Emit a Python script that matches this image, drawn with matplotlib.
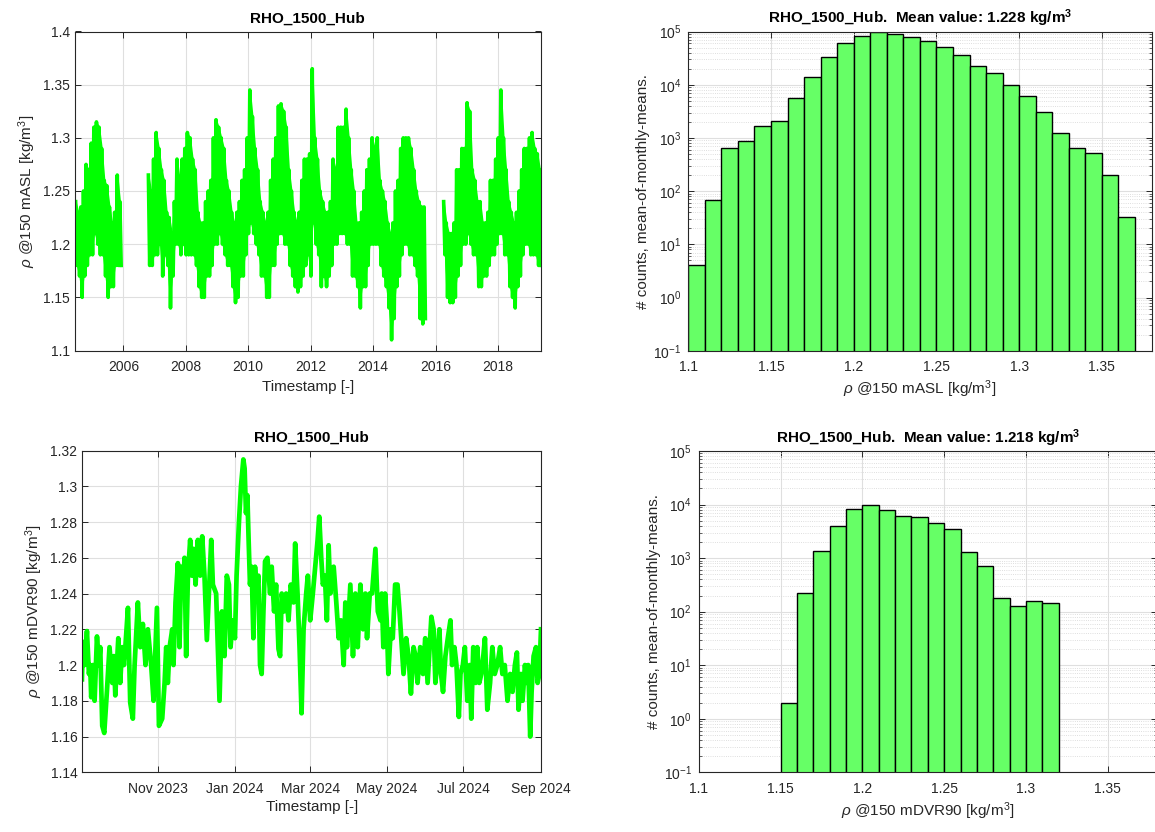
import numpy as np
import matplotlib
matplotlib.use('Agg')
import matplotlib.pyplot as plt
import matplotlib.dates as mdates
from matplotlib.ticker import FixedLocator, FuncFormatter, LogLocator, NullFormatter

plt.rcParams['font.family'] = ['Liberation Sans', 'DejaVu Sans']
plt.rcParams['mathtext.fontset'] = 'custom'
plt.rcParams['mathtext.rm'] = 'Liberation Sans'
plt.rcParams['mathtext.it'] = 'Liberation Sans:italic'
plt.rcParams['mathtext.bf'] = 'Liberation Sans:bold'

# ---------------- data: long-term series (monthly envelope, three data segments) ----------------
seg_starts = [2004.45, 2006.78, 2016.24]   # decimal year of first month in each segment
segA_hi = [1.24, 1.23, 1.235, 1.25, 1.275, 1.27, 1.295, 1.31, 1.315, 1.31, 1.29, 1.26,
           1.255, 1.235, 1.22, 1.23, 1.265, 1.24]
segA_lo = [1.18, 1.17, 1.15, 1.17, 1.18, 1.19, 1.19, 1.21, 1.20, 1.19, 1.19, 1.17,
           1.15, 1.16, 1.16, 1.18, 1.18, 1.18]
segB_hi = [1.265, 1.25, 1.28,
           1.305, 1.29, 1.27, 1.26, 1.23, 1.225, 1.21, 1.24, 1.28, 1.26, 1.28, 1.29,
           1.305, 1.30, 1.28, 1.27, 1.23, 1.22, 1.22, 1.24, 1.25, 1.26, 1.30, 1.317,
           1.31, 1.30, 1.29, 1.26, 1.25, 1.23, 1.22, 1.23, 1.24, 1.26, 1.27, 1.30,
           1.345, 1.32, 1.29, 1.27, 1.24, 1.23, 1.22, 1.23, 1.26, 1.28, 1.30, 1.33,
           1.332, 1.325, 1.31, 1.27, 1.25, 1.23, 1.22, 1.23, 1.26, 1.28, 1.28, 1.285,
           1.365, 1.30, 1.28, 1.25, 1.24, 1.23, 1.23, 1.24, 1.28, 1.27, 1.31, 1.31,
           1.31, 1.327, 1.30, 1.27, 1.25, 1.22, 1.22, 1.23, 1.25, 1.27, 1.28, 1.30,
           1.29, 1.30, 1.26, 1.25, 1.24, 1.22, 1.21, 1.22, 1.25, 1.26, 1.29, 1.30,
           1.30, 1.30, 1.29, 1.27, 1.25, 1.24, 1.235, 1.235]
segB_lo = [1.18, 1.18, 1.19,
           1.19, 1.20, 1.17, 1.19, 1.18, 1.14, 1.17, 1.20, 1.20, 1.19, 1.20, 1.19,
           1.19, 1.19, 1.19, 1.18, 1.16, 1.15, 1.15, 1.17, 1.17, 1.18, 1.20, 1.20,
           1.21, 1.20, 1.19, 1.18, 1.18, 1.16, 1.145, 1.15, 1.17, 1.17, 1.19, 1.21,
           1.22, 1.21, 1.20, 1.19, 1.17, 1.17, 1.15, 1.15, 1.18, 1.18, 1.20, 1.21,
           1.21, 1.20, 1.20, 1.18, 1.17, 1.16, 1.155, 1.16, 1.17, 1.18, 1.19, 1.17,
           1.22, 1.20, 1.19, 1.16, 1.17, 1.16, 1.17, 1.18, 1.20, 1.20, 1.21, 1.21,
           1.21, 1.20, 1.20, 1.17, 1.17, 1.16, 1.14, 1.16, 1.16, 1.18, 1.20, 1.20,
           1.20, 1.20, 1.18, 1.17, 1.16, 1.14, 1.11, 1.13, 1.16, 1.17, 1.19, 1.20,
           1.20, 1.19, 1.19, 1.18, 1.17, 1.13, 1.125, 1.13]
segC_hi = [1.24, 1.22, 1.21, 1.21, 1.22, 1.27, 1.27, 1.29, 1.29,
           1.333, 1.325, 1.27, 1.26, 1.24, 1.24, 1.22, 1.22, 1.23, 1.26, 1.26, 1.28,
           1.30, 1.345, 1.30, 1.27, 1.24, 1.23, 1.22, 1.23, 1.25, 1.27, 1.29, 1.29,
           1.30, 1.305, 1.29, 1.285, 1.27]
segC_lo = [1.19, 1.15, 1.145, 1.145, 1.15, 1.17, 1.18, 1.20, 1.20,
           1.21, 1.20, 1.19, 1.19, 1.16, 1.16, 1.17, 1.17, 1.18, 1.19, 1.19, 1.20,
           1.21, 1.21, 1.19, 1.19, 1.16, 1.15, 1.14, 1.16, 1.17, 1.19, 1.20, 1.20,
           1.19, 1.19, 1.19, 1.18, 1.18]
year_ticks = [2006, 2008, 2010, 2012, 2014, 2016, 2018]

# ---------------- data: 2023/24 series (days since 2023-09-01) ----------------
days2 = [0, 0.8, 2.1, 4.0, 5.6, 6.6, 7.4, 8.8, 10.1, 12.0, 13.5, 14.6, 16.2, 17.8, 19.9, 22.0,
         24.2, 25.5, 26.6, 29.0, 30.5, 32.1, 33.5, 34.8, 36.7, 38.5, 40.6, 42.0, 44.6, 46.5,
         48.6, 50.7, 52.6, 55.2, 57.1, 59.8, 61.4, 64.0, 65.9, 67.2, 68.5, 69.9, 72.0, 73.0,
         74.6, 76.5, 77.8, 79.1, 80.5, 81.8, 83.1, 84.5, 86.3, 87.6, 89.0, 90.6, 92.4, 94.3,
         95.9, 97.7, 99.6, 101.2, 103.1, 104.4, 107.0, 109.7, 111.6, 113.7, 115.5,
         117.2, 118.5, 120.1, 122.0, 123.3, 125.2, 126.8, 128.7, 129.7, 130.8, 131.9, 132.9,
         134.0, 135.3, 136.7, 138.0, 139.3, 140.7, 142.0, 143.3, 144.7, 146.0, 147.9, 150.0,
         151.3, 153.2, 154.8, 156.7, 158.0, 159.3, 161.2, 162.8, 164.7, 166.5, 168.7, 170.0,
         171.9, 173.5, 175.1, 176.7, 178.8, 180.1, 182.0, 184.1, 186.0, 187.9, 189.2, 190.8,
         192.1, 193.7, 195.3, 196.7, 198.0, 200.7, 202.8, 204.7, 206.5, 208.7, 210.0, 211.3,
         214.0, 216.1, 218.0, 219.9, 222.0, 224.1, 226.0, 227.3, 229.5, 231.3, 234.0, 235.9,
         238.0, 239.0, 240.3, 241.7, 243.0, 244.3, 246.2, 247.8, 249.7, 251.6, 253.2, 255.0,
         256.4, 258.5, 260.4, 262.3, 264.4, 266.0, 267.6, 269.7, 271.9, 273.7, 275.6, 277.2,
         278.6, 280.4, 281.8, 283.1, 285.0, 286.3, 287.9, 289.8, 291.7, 293.8, 295.1, 297.0,
         298.6, 300.5, 301.8, 303.7, 305.3, 307.2, 309.1, 310.4, 312.0, 313.9, 315.2, 316.8,
         318.4, 320.0, 321.3, 323.2, 325.4, 327.2, 329.1, 331.2, 333.4, 335.2, 337.1, 339.3,
         341.4, 343.3, 345.2, 346.8, 348.1, 350.0, 351.3, 353.2, 354.8, 355.8, 357.4, 358.5,
         360.1, 362.0, 363.3, 364.7, 366.0]
rho2 = [1.192, 1.213, 1.20, 1.219, 1.195, 1.20, 1.182, 1.20, 1.18, 1.216, 1.20, 1.21, 1.166, 1.162,
        1.185, 1.21, 1.19, 1.205, 1.183, 1.215, 1.19, 1.21, 1.20, 1.212, 1.232, 1.179, 1.170,
        1.20, 1.235, 1.21, 1.223, 1.20, 1.22, 1.20, 1.18, 1.232, 1.166, 1.17, 1.19, 1.21, 1.19,
        1.21, 1.22, 1.20, 1.235, 1.257, 1.21, 1.255, 1.24, 1.26, 1.205, 1.25, 1.27, 1.25,
        1.265, 1.245, 1.27, 1.25, 1.272, 1.25, 1.214, 1.24, 1.27, 1.245, 1.24, 1.18, 1.23,
        1.205, 1.25,
        1.245, 1.21, 1.225, 1.215, 1.25, 1.28, 1.30, 1.315, 1.31, 1.285, 1.295, 1.27,
        1.245, 1.255, 1.215, 1.255, 1.24, 1.25, 1.20, 1.195, 1.23, 1.258, 1.26, 1.24,
        1.255, 1.23, 1.245, 1.209, 1.205, 1.24, 1.23, 1.24, 1.225, 1.245, 1.235, 1.268,
        1.24, 1.21, 1.173, 1.22, 1.24, 1.25, 1.225, 1.24, 1.255, 1.27, 1.283, 1.26,
        1.245, 1.25, 1.225, 1.267, 1.24, 1.255, 1.235, 1.215, 1.225, 1.20, 1.235, 1.21,
        1.245, 1.205, 1.24, 1.21, 1.245, 1.22, 1.24, 1.215, 1.24, 1.24, 1.265, 1.23,
        1.225, 1.24, 1.21, 1.24, 1.225, 1.195, 1.22, 1.215, 1.245, 1.245, 1.23, 1.21,
        1.195, 1.215, 1.205, 1.184, 1.21, 1.205, 1.19, 1.21, 1.195, 1.215, 1.19, 1.21,
        1.227, 1.22, 1.19, 1.20, 1.22, 1.195, 1.185, 1.205, 1.215, 1.225, 1.20, 1.21,
        1.20, 1.171, 1.195, 1.20, 1.21, 1.18, 1.20, 1.17, 1.21, 1.19, 1.21, 1.19,
        1.195, 1.205, 1.215, 1.175, 1.19, 1.21, 1.195, 1.20, 1.21, 1.195, 1.20, 1.18,
        1.195, 1.185, 1.20, 1.207, 1.175, 1.195, 1.18, 1.20, 1.19, 1.20, 1.16, 1.185,
        1.205, 1.21, 1.19, 1.195, 1.22]
date_ticks = ['2023-11-01', '2024-01-01', '2024-03-01', '2024-05-01', '2024-07-01', '2024-09-01']

# ---------------- data: histograms ----------------
bin_w = 0.01
hist1_left = 1.10
hist1_counts = [4, 68, 650, 865, 1650, 2050, 5600, 14000, 33000, 60000, 82000, 97000, 91000,
                78000, 67000, 51000, 36000, 22000, 16500, 10000, 6100, 3100, 1230, 650, 520,
                205, 32]
hist2_left = 1.15
hist2_counts = [2, 227, 1370, 3980, 8300, 10000, 7900, 6150, 5800, 4520, 3500, 1310, 720, 183,
                128, 158, 143]

# ---------------- styling ----------------
W, H = 1155, 832
fig = plt.figure(figsize=(W / 100, H / 100), dpi=100)
txt_c = '#262626'
grid_c = '#dfdfdf'
line_c = '#00ff00'
bar_c = '#66ff66'


def px_axes(l, t, r, b):
    return fig.add_axes([l / W, 1 - b / H, (r - l) / W, (b - t) / H])


def style(ax):
    for s in ax.spines.values():
        s.set_color(txt_c)
        s.set_linewidth(0.8)
    ax.tick_params(direction='in', top=True, right=True, colors=txt_c, labelsize=10,
                   length=4, width=0.7, labelcolor=txt_c)
    ax.tick_params(axis='x', pad=7)
    ax.tick_params(which='minor', direction='in', top=True, right=True, length=2, width=0.5,
                   colors=txt_c)
    ax.set_axisbelow(True)


gfmt = FuncFormatter(lambda v, p: '%g' % round(v, 4))

# ---- top-left: long-term series ----
ax1 = px_axes(75, 31.5, 540.7, 350.5)
style(ax1)
for start, hi, lo in [(seg_starts[0], segA_hi, segA_lo), (seg_starts[1], segB_hi, segB_lo),
                      (seg_starts[2], segC_hi, segC_lo)]:
    tm = start + (np.arange(len(hi)) + 0.5) / 12
    ax1.fill_between(tm, lo, hi, color=line_c, lw=0)
    t = []
    v = []
    for i, (h, l) in enumerate(zip(hi, lo)):
        t += [start + (i + 0.25) / 12, start + (i + 0.75) / 12]
        v += [h, l]
    ax1.plot(t, v, color=line_c, lw=2.6)
ax1.set_xlim(2004.45, 2019.37)
ax1.set_ylim(1.1, 1.4)
ax1.xaxis.set_major_locator(FixedLocator(year_ticks))
ax1.xaxis.set_major_formatter(FuncFormatter(lambda v, p: '%d' % round(v)))
ax1.yaxis.set_major_locator(FixedLocator(np.arange(1.1, 1.401, 0.05)))
ax1.yaxis.set_major_formatter(gfmt)
ax1.grid(True, color=grid_c, lw=0.8)
ax1.set_title('RHO_1500_Hub', fontsize=11, fontweight='bold', color='black', pad=6)
ax1.set_xlabel('Timestamp [-]', fontsize=11, color=txt_c, labelpad=4)
ax1.set_ylabel(r'$\rho$ @150 mASL [kg/m$^3$]', fontsize=11, color=txt_c, labelpad=4)

# ---- bottom-left: 2023/24 series ----
ax3 = px_axes(82.3, 450.5, 541, 772.3)
style(ax3)
base = mdates.date2num(np.datetime64('2023-09-01'))
ax3.plot(base + np.array(days2), rho2, color=line_c, lw=3.4)
ax3.set_xlim(base + 0.3, base + 366)
ax3.set_ylim(1.14, 1.32)
ax3.xaxis.set_major_locator(FixedLocator([mdates.date2num(np.datetime64(d)) for d in date_ticks]))
ax3.xaxis.set_major_formatter(mdates.DateFormatter('%b %Y'))
ax3.yaxis.set_major_locator(FixedLocator(np.arange(1.14, 1.3201, 0.02)))
ax3.yaxis.set_major_formatter(gfmt)
ax3.grid(True, color=grid_c, lw=0.8)
ax3.set_title('RHO_1500_Hub', fontsize=11, fontweight='bold', color='black', pad=6)
ax3.set_xlabel('Timestamp [-]', fontsize=11, color=txt_c, labelpad=3)
ax3.set_ylabel(r'$\rho$ @150 mDVR90 [kg/m$^3$]', fontsize=11, color=txt_c, labelpad=4)


# ---- histograms ----
def hist_axes(ax, left, counts, title, xlabel):
    style(ax)
    edges = left + bin_w * np.arange(len(counts))
    ax.bar(edges, counts, width=bin_w, align='edge', color=bar_c, edgecolor='black',
           linewidth=1.0, bottom=1e-3)
    ax.set_yscale('log')
    ax.set_ylim(1e-1, 1e5)
    ax.set_xlim(1.1, 1.38)
    ax.xaxis.set_major_locator(FixedLocator(np.arange(1.1, 1.351, 0.05)))
    ax.xaxis.set_major_formatter(gfmt)
    ax.yaxis.set_major_locator(LogLocator(base=10, numticks=10))
    ax.yaxis.set_minor_locator(LogLocator(base=10, subs=np.arange(2, 10), numticks=20))
    ax.yaxis.set_minor_formatter(NullFormatter())
    ax.tick_params(axis='y', pad=5)
    ax.grid(True, which='major', color=grid_c, lw=0.8)
    ax.grid(True, which='minor', axis='y', color='#d4d4d4', lw=0.6, ls=':')
    ax.set_title(title, fontsize=11, fontweight='bold', color='black', pad=6)
    ax.set_xlabel(xlabel, fontsize=11, color=txt_c, labelpad=3)
    ax.set_ylabel('# counts, mean-of-monthly-means.', fontsize=11, color=txt_c, labelpad=2)


ax2 = px_axes(688.3, 31.5, 1151.5, 350.7)
hist_axes(ax2, hist1_left, hist1_counts,
          r'RHO_1500_Hub.  Mean value: 1.228 kg/m$^{\mathbf{3}}$',
          r'$\rho$ @150 mASL [kg/m$^3$]')
ax4 = px_axes(698.7, 451, 1157, 772.3)
hist_axes(ax4, hist2_left, hist2_counts,
          r'RHO_1500_Hub.  Mean value: 1.218 kg/m$^{\mathbf{3}}$',
          r'$\rho$ @150 mDVR90 [kg/m$^3$]')

fig.savefig('out.png', dpi=100)
